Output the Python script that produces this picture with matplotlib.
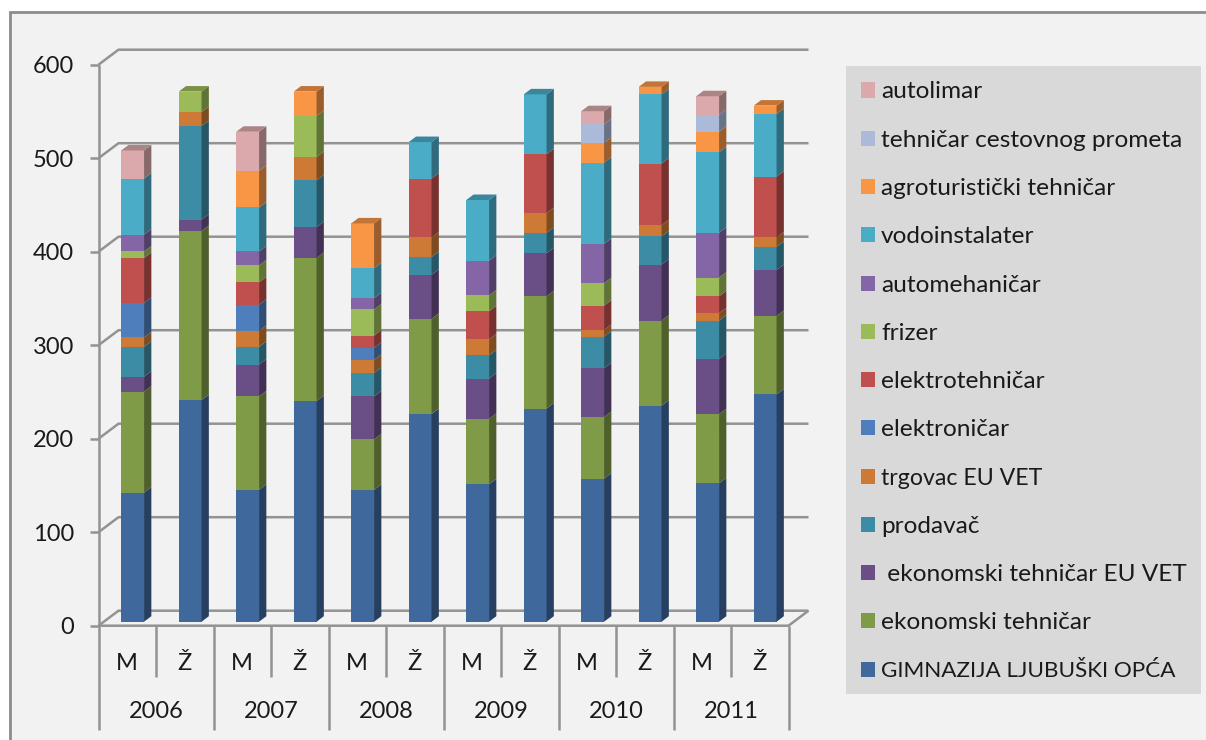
#!/usr/bin/env python3
import matplotlib
matplotlib.use("Agg")
import matplotlib.pyplot as plt
import numpy as np
from matplotlib.patches import Rectangle

# pixels of the figure
W, H = 1206, 740
AX_L, AX_R, AX_T, AX_B = 98.5, 788.5, 64.7, 625.7

plt.rcParams["font.family"] = ["Lato", "DejaVu Sans"]

sexes = ["M", "Ž"] * 6
years = ["2006", "2007", "2008", "2009", "2010", "2011"]
y_ticks = [0, 100, 200, 300, 400, 500, 600]

# bottom to top of the stack
series_names = [
    "GIMNAZIJA LJUBUŠKI OPĆA",
    "ekonomski tehničar",
    " ekonomski tehničar EU VET",
    "prodavač",
    "trgovac EU VET",
    "elektroničar",
    "elektrotehničar",
    "frizer",
    "automehaničar",
    "vodoinstalater",
    "agroturistički tehničar",
    "tehničar cestovnog prometa",
    "autolimar",
]
series_colors = [
    "#3F689C", "#7F9B47", "#6A4F87", "#3D8CA6", "#CC7A36", "#4F7EBD", "#C0504D",
    "#9BBB59", "#8466A6", "#4BACC8", "#F99645", "#ABBAD8", "#DBA9AB",
]

gimnazija = [138, 237, 141, 236, 141, 222, 147, 228, 153, 231, 148, 243]
ekonomski = [108, 181, 100, 153, 54, 102, 70, 120, 66, 91, 74, 84]
ekonomski_eu = [16, 12, 34, 33, 46, 47, 43, 46, 52, 60, 59, 49]
prodavac = [32, 100, 19, 50, 25, 19, 25, 22, 34, 30, 41, 25]
trgovac = [10, 15, 17, 25, 14, 21, 17, 21, 7, 12, 8, 10]
elektronicar = [37, 0, 28, 0, 13, 0, 0, 0, 0, 0, 0, 0]
elektroteh = [48, 0, 24, 0, 13, 63, 30, 63, 26, 66, 18, 65]
frizer = [7, 22, 18, 44, 28, 0, 17, 0, 24, 0, 20, 0]
automeh = [18, 0, 15, 0, 12, 0, 37, 0, 42, 0, 48, 0]
vodoinst = [60, 0, 47, 0, 32, 39, 65, 64, 87, 74, 86, 67]
agroturist = [0, 0, 39, 26, 48, 0, 0, 0, 21, 8, 22, 9]
cestovni = [0, 0, 0, 0, 0, 0, 0, 0, 20, 0, 18, 0]
autolimar = [30, 0, 42, 0, 0, 0, 0, 0, 14, 0, 20, 0]

series_values = [
    gimnazija, ekonomski, ekonomski_eu, prodavac, trgovac, elektronicar, elektroteh,
    frizer, automeh, vodoinst, agroturist, cestovni, autolimar,
]


def shade(color, k):
    rgb = np.array(matplotlib.colors.to_rgb(color))
    return tuple(rgb * k)


fig = plt.figure(figsize=(W / 100, H / 100), dpi=100, facecolor="white")
# panel runs off the right and bottom edges
fig.patches.append(Rectangle((9.5 / W, -0.1), 1.1, 1.1 - 12.5 / H, transform=fig.transFigure,
                             facecolor="#F2F2F2", edgecolor="#8C8C8C", linewidth=2.0,
                             zorder=-2))

ax = fig.add_axes([AX_L / W, 1 - AX_B / H, (AX_R - AX_L) / W, (AX_B - AX_T) / H])
ax.set_xlim(0, 12)
ax.set_ylim(0, 600)
ax.patch.set_alpha(0)
for s in ax.spines.values():
    s.set_visible(False)

px_x = 12 / (AX_R - AX_L)  # data units per pixel
px_y = 600 / (AX_B - AX_T)

# walls of the fake 3d box
line = dict(color="#939393", lw=1.8, clip_on=False, solid_capstyle="butt", zorder=1)
wall_dx, wall_dy = 20 * px_x, 15 * px_y
for v in y_ticks:
    ax.plot([0, wall_dx, 12 + wall_dx], [v, v + wall_dy, v + wall_dy], **line)
ax.plot([0, 12, 12 + wall_dx], [0, 0, wall_dy], **line)
ax.plot([0, 0], [0, 600], **line)

# stacked bars with side and top faces
bar_w = 22.8 * px_x
off_x, off_y = 5.4 * px_x, 4 * px_y
depth_x, depth_y = 7.3 * px_x, 5.5 * px_y
values = np.array(series_values, dtype=float)
for i in range(12):
    left = i + 0.5 - bar_w / 2 + off_x
    right = left + bar_w
    base = off_y
    top_color = None
    for j, color in enumerate(series_colors):
        v = values[j, i]
        if v == 0:
            continue
        ax.bar(left, v, bar_w, bottom=base, align="edge", color=color, linewidth=0,
               clip_on=False, zorder=3)
        ax.fill([right, right + depth_x, right + depth_x, right],
                [base, base + depth_y, base + v + depth_y, base + v],
                color=shade(color, 0.62), linewidth=0, clip_on=False, zorder=3)
        base += v
        top_color = color
    ax.fill([left, left + depth_x, right + depth_x, right],
            [base, base + depth_y, base + depth_y, base],
            color=shade(top_color, 0.78), linewidth=0, clip_on=False, zorder=3)
ax.set_xlim(0, 12)
ax.set_ylim(0, 600)

# y axis
ax.set_yticks(y_ticks)
ax.tick_params(axis="y", length=6.5, width=1.8, color="#939393", pad=11,
               labelsize=17, labelcolor="#1A1A1A")

# two level category axis
centers = np.arange(12) + 0.5
ax.set_xticks(centers, sexes)
ax.tick_params(axis="x", length=0, pad=20, labelsize=17, labelcolor="#1A1A1A")
for x in range(13):
    low = -(730 - AX_B) * px_y if x % 2 == 0 else -(677 - AX_B) * px_y
    ax.plot([x, x], [0, low], **line)
for k, year in enumerate(years):
    ax.text(2 * k + 1, -(712 - AX_B) * px_y, year, ha="center", va="center",
            fontsize=17, color="#1A1A1A", clip_on=False)

# legend, top entry is the last series
legend_sizes = {"GIMNAZIJA LJUBUŠKI OPĆA": 16.2, "trgovac EU VET": 16.7}
fig.patches.append(Rectangle((846 / W, 1 - 694 / H), 355 / W, 628 / H,
                             transform=fig.transFigure, facecolor="#D9D9D9", linewidth=0,
                             zorder=-1))
for row, j in enumerate(range(len(series_names) - 1, -1, -1)):
    yc = 90 + row * 48.27
    fig.patches.append(Rectangle((860.5 / W, 1 - (yc + 7.5) / H), 14.5 / W, 15 / H,
                                 transform=fig.transFigure, facecolor=series_colors[j],
                                 linewidth=0, zorder=-1))
    fig.text(881 / W, 1 - yc / H, series_names[j], ha="left", va="center_baseline",
             fontsize=legend_sizes.get(series_names[j], 17.6), color="#1A1A1A")

fig.savefig("out.png", dpi=100, facecolor=fig.get_facecolor())
